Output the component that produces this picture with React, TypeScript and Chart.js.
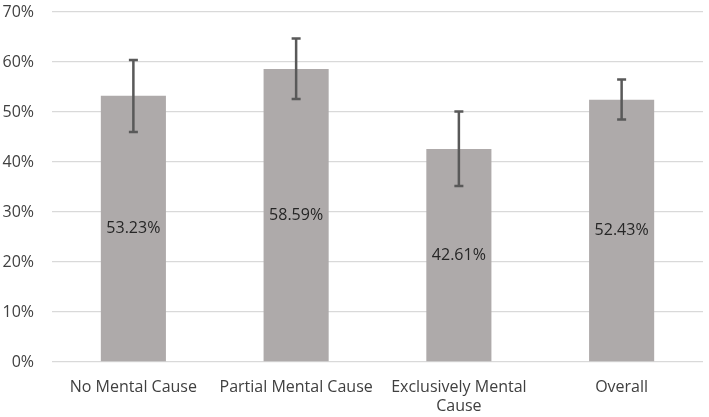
import { useEffect, useRef } from 'react';
import { Chart, registerables } from 'chart.js';

Chart.register(...registerables);

const categories = [['No Mental Cause'], ['Partial Mental Cause'], ['Exclusively Mental', 'Cause'], ['Overall']];
const values = [53.23, 58.59, 42.61, 52.43];
const errLow = [46.0, 52.6, 35.2, 48.5];
const errHigh = [60.4, 64.7, 50.1, 56.5];

const FONT = '"Open Sans", "Liberation Sans", sans-serif';

// draws error bars and the value labels in the middle of each bar
const barExtras = {
  id: 'barExtras',
  afterDatasetsDraw(chart: Chart) {
    const { ctx } = chart;
    const meta = chart.getDatasetMeta(0);
    const y = chart.scales.y;
    ctx.save();
    meta.data.forEach((bar: any, i: number) => {
      const x = bar.x;
      const top = y.getPixelForValue(errHigh[i]);
      const bottom = y.getPixelForValue(errLow[i]);
      ctx.strokeStyle = '#595959';
      ctx.lineWidth = 2.5;
      ctx.beginPath();
      ctx.moveTo(x, top);
      ctx.lineTo(x, bottom);
      ctx.moveTo(x - 4.5, top);
      ctx.lineTo(x + 4.5, top);
      ctx.moveTo(x - 4.5, bottom);
      ctx.lineTo(x + 4.5, bottom);
      ctx.stroke();

      const mid = (bar.y + bar.base) / 2;
      ctx.fillStyle = '#262626';
      ctx.font = `16px ${FONT}`;
      ctx.textAlign = 'center';
      ctx.textBaseline = 'middle';
      ctx.fillText(values[i].toFixed(2) + '%', x, mid);
    });
    ctx.restore();
  },
};

export default function App() {
  const chartRef = useRef<HTMLCanvasElement>(null);
  const chartInstance = useRef<Chart | null>(null);

  useEffect(() => {
    document.body.style.margin = '0';
    if (!chartRef.current) return;
    if (chartInstance.current) chartInstance.current.destroy();

    chartInstance.current = new Chart(chartRef.current, {
      type: 'bar',
      data: {
        labels: categories,
        datasets: [{
          data: values,
          backgroundColor: '#AEAAAA',
          categoryPercentage: 1,
          barPercentage: 0.4,
        }],
      },
      options: {
        animation: false,
        responsive: false,
        maintainAspectRatio: false,
        layout: { padding: { top: 12, right: 6, left: 0, bottom: 0 } },
        plugins: { legend: { display: false }, tooltip: { enabled: false } },
        scales: {
          x: {
            grid: { display: false },
            border: { display: false },
            ticks: { color: '#404040', font: { family: FONT, size: 16 }, padding: 8, maxRotation: 0 },
            afterFit: (scale: any) => {
              scale.height = 55;
              scale.paddingLeft = 0;
              scale.paddingRight = 0;
            },
          },
          y: {
            min: 0,
            max: 70,
            ticks: {
              stepSize: 10,
              color: '#404040',
              font: { family: FONT, size: 16 },
              padding: 18,
              callback: (v: any) => v + '%',
            },
            grid: { color: '#D9D9D9', lineWidth: 1.3, drawTicks: false },
            border: { display: false },
            afterFit: (scale: any) => {
              scale.width = 52;
              scale.paddingTop = 0;
              scale.paddingBottom = 0;
            },
          },
        },
      },
      plugins: [barExtras],
    });

    return () => {
      if (chartInstance.current) {
        chartInstance.current.destroy();
        chartInstance.current = null;
      }
    };
  }, []);

  return (
    <div style={{ width: 709, height: 417, background: '#fff' }}>
      <canvas ref={chartRef} width={709} height={417} />
    </div>
  );
}
